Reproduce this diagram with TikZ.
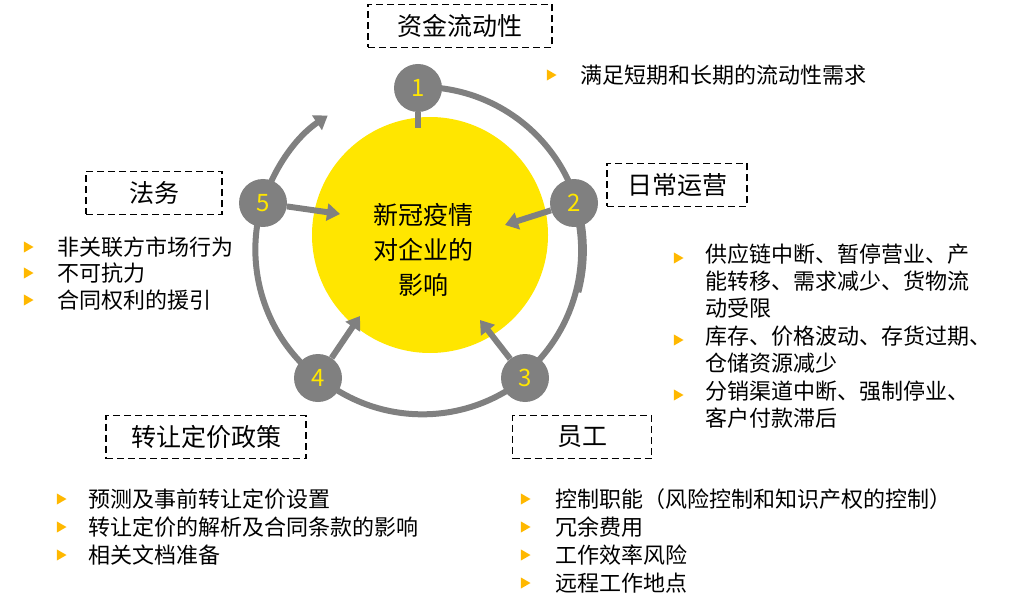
\documentclass[tikz,border=0pt]{standalone}
\usepackage{fontspec}
\setmainfont{Noto Sans CJK SC}
\usetikzlibrary{arrows.meta}
\definecolor{gr}{HTML}{808080}
\definecolor{yl}{HTML}{FFE600}
\definecolor{tri}{HTML}{FFB800}
\begin{document}
\begin{tikzpicture}[x=1pt,y=-1pt,
  numc/.style={circle,fill=gr,minimum size=48pt,inner sep=0pt,text=yl,font=\fontsize{24}{24}\selectfont},
  hbox/.style={draw,dashed,line width=1.2pt,dash pattern=on 7pt off 4pt,minimum height=43pt,font=\fontsize{25}{25}\selectfont},
  bl/.style={anchor=west,inner sep=0pt,font=\fontsize{22}{27}\selectfont,align=left},
  tr/.style={fill=tri,draw=none,regular polygon,regular polygon sides=3,shape border rotate=-90,minimum size=13pt,inner sep=0pt},
  ring/.style={gr,line width=6pt},
  ar/.style={gr,line width=6pt,-{Triangle[length=13pt,width=17pt]}}]
\usetikzlibrary{shapes.geometric}
\useasboundingbox (0,0) rectangle (1024,612);
\fill[yl] (430,235) circle (118pt);
\node[align=center,font=\fontsize{25}{35}\selectfont] (c) at (423,250) {新冠疫情\\对企业的\\影响};
% ring
\coordinate (o) at (420,250);
\draw[ring] (418,87) arc[start angle=91,end angle=-15,radius=163pt];
\draw[ring] (574,203) arc[start angle=17,end angle=-50,radius=163pt];
\draw[ring] (525,378) arc[start angle=-51,end angle=-129,radius=163pt];
\draw[ring] (318,378) arc[start angle=-128,end angle=-197,radius=163pt];
\draw[ar] (263,203) arc[start angle=163,end angle=124,radius=163pt];
\node[numc] (n1) at (418,88) {1};
\node[numc] (n2) at (574,203) {2};
\node[numc] (n3) at (525,378) {3};
\node[numc] (n4) at (318,378) {4};
\node[numc] (n5) at (263,203) {5};
\coordinate (t1) at (418,128);
\coordinate (t2) at (505,225);
\coordinate (t3) at (480,320);
\coordinate (t4) at (360,316);
\coordinate (t5) at (340,214);
\draw[gr,line width=6pt] (n1) -- (t1);
\draw[ar] (n2) -- (t2);
\draw[ar] (n3) -- (t3);
\draw[ar] (n4) -- (t4);
\draw[ar] (n5) -- (t5);
% boxes
\node[hbox,minimum width=184pt] (b1) at (460,26) {资金流动性};
\node[hbox,minimum width=140pt] (b2) at (677,185) {日常运营};
\node[hbox,minimum width=136pt] (b5) at (154,193) {法务};
\node[hbox,minimum width=200pt] (b4) at (206,437) {转让定价政策};
\node[hbox,minimum width=139pt] (b3) at (582,437) {员工};
% bullets
\node[tr] (p1) at (550,75) {}; \node[bl] (l1) at (580,75) {满足短期和长期的流动性需求};
\node[tr] (p2a) at (677,258) {}; \node[bl,anchor=north west] (l2a) at (705,244) {供应链中断、暂停营业、产\\能转移、需求减少、货物流\\动受限};
\node[tr] (p2b) at (677,340) {}; \node[bl,anchor=north west] (l2b) at (705,326) {库存、价格波动、存货过期、\\仓储资源减少};
\node[tr] (p2c) at (677,395) {}; \node[bl,anchor=north west] (l2c) at (705,381) {分销渠道中断、强制停业、\\客户付款滞后};
\node[tr] (p5a) at (27,247) {}; \node[bl] (l5a) at (57,247) {非关联方市场行为};
\node[tr] (p5b) at (27,273) {}; \node[bl] (l5b) at (57,273) {不可抗力};
\node[tr] (p5c) at (27,300) {}; \node[bl] (l5c) at (57,300) {合同权利的援引};
\node[tr] (p4a) at (60,499) {}; \node[bl] (l4a) at (88,499) {预测及事前转让定价设置};
\node[tr] (p4b) at (60,527) {}; \node[bl] (l4b) at (88,527) {转让定价的解析及合同条款的影响};
\node[tr] (p4c) at (60,555) {}; \node[bl] (l4c) at (88,555) {相关文档准备};
\node[tr] (p3a) at (524,499) {}; \node[bl] (l3a) at (555,499) {控制职能（风险控制和知识产权的控制）};
\node[tr] (p3b) at (524,527) {}; \node[bl] (l3b) at (555,527) {冗余费用};
\node[tr] (p3c) at (524,555) {}; \node[bl] (l3c) at (555,555) {工作效率风险};
\node[tr] (p3d) at (524,583) {}; \node[bl] (l3d) at (555,583) {远程工作地点};
\end{tikzpicture}
\end{document}
